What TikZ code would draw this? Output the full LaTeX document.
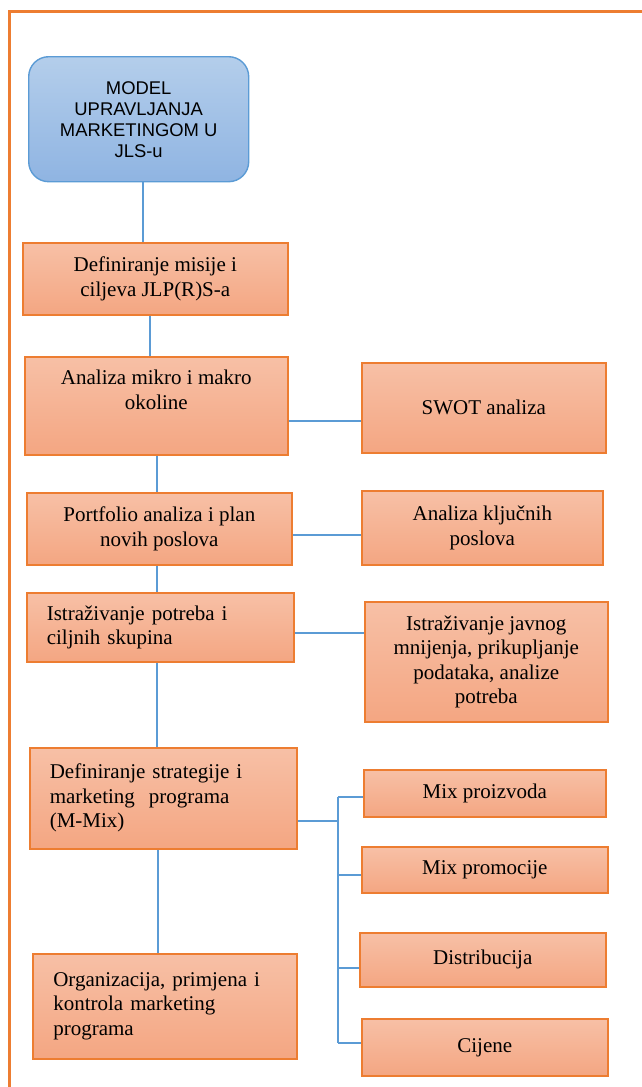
\documentclass[tikz,border=0pt]{standalone}
\usepackage{fontspec}
\setmainfont{Liberation Serif}
\newfontfamily\arialf{Liberation Sans}
\definecolor{frameor}{HTML}{ED7D31}
\definecolor{boxor}{HTML}{ED7D31}
\definecolor{saltop}{HTML}{F7C0A6}
\definecolor{salbot}{HTML}{F4A682}
\definecolor{bltop}{HTML}{B4CEEB}
\definecolor{blbot}{HTML}{8FB4E2}
\definecolor{blline}{HTML}{5B9BD5}
\tikzset{
  box/.style={draw=boxor, line width=1.6pt, top color=saltop, bottom color=salbot,
    inner sep=0pt, anchor=north west, font=\fontsize{21}{24.5}\selectfont},
  conn/.style={draw=blline, line width=1.4pt},
  titlebox/.style={draw=blline, line width=1.4pt, rounded corners=20pt, top color=bltop,
    bottom color=blbot, inner sep=0pt, anchor=north west, align=center,
    font=\arialf\fontsize{18.4}{21}\selectfont}
}
\begin{document}
\begin{tikzpicture}[x=1pt,y=-1pt]
\useasboundingbox (0,0) rectangle (641,1087);
\draw[frameor, line width=3pt] (9,1090) -- (9,11) -- (645,11);

\node[titlebox, minimum width=220pt, minimum height=125pt] (t) at (28,56)
  {MODEL\\UPRAVLJANJA\\MARKETINGOM U\\JLS-u};

\node[box, minimum width=265pt, minimum height=72pt, align=center] (b1) at (22,242)
  {Definiranje misije i\\ciljeva JLP(R)S-a};
\node[box, minimum width=263pt, minimum height=98pt, align=center] (b2) at (24,356)
  {Analiza mikro i makro\\okoline\\ \strut};
\node[box, minimum width=265pt, minimum height=72pt, align=center] (b3) at (26,492)
  {Portfolio analiza i plan\\novih poslova};
\node[box, minimum width=267pt, minimum height=69pt, text width=227pt, align=left] (b4) at (26,592)
  {Istraživanje potreba i\\ciljnih skupina};
\node[box, minimum width=267pt, minimum height=101pt, text width=227pt, align=left] (b5) at (29,747)
  {Definiranje strategije i\\marketing\ \ programa\\(M-Mix)};
\node[box, minimum width=264pt, minimum height=105pt, text width=223pt, align=left] (b6) at (32,953)
  {Organizacija, primjena i\\kontrola marketing\\programa};

\node[box, minimum width=244pt, minimum height=90pt, align=center] (r1) at (361,362)
  {SWOT analiza};
\node[box, minimum width=241pt, minimum height=74pt, align=center] (r2) at (361,490)
  {Analiza ključnih\\poslova};
\node[box, minimum width=243pt, minimum height=120pt, align=center] (r3) at (364,601)
  {Istraživanje javnog\\mnijenja, prikupljanje\\podataka, analize\\potreba};
\node[box, minimum width=242pt, minimum height=47pt, align=center] (m1) at (363,769)
  {Mix proizvoda};
\node[box, minimum width=246pt, minimum height=46pt, align=center] (m2) at (361,846)
  {Mix promocije};
\node[box, minimum width=246pt, minimum height=54pt, align=center] (m3) at (359,932)
  {Distribucija};
\node[box, minimum width=246pt, minimum height=57pt, align=center] (m4) at (361,1018)
  {Cijene};

% vertical chain
\coordinate (v0) at (143,0);
\coordinate (v1) at (150,0);
\coordinate (v2) at (157,0);
\coordinate (v5) at (158,0);
\draw[conn] (t.south -| v0) -- (b1.north -| v0);
\draw[conn] (b1.south -| v1) -- (b2.north -| v1);
\draw[conn] (b2.south -| v2) -- (b3.north -| v2);
\draw[conn] (b3.south -| v2) -- (b4.north -| v2);
\draw[conn] (b4.south -| v2) -- (b5.north -| v2);
\draw[conn] (b5.south -| v5) -- (b6.north -| v5);

% side links
\coordinate (h2) at (0,421);
\coordinate (h3) at (0,535);
\coordinate (h4) at (0,633);
\draw[conn] (b2.east |- h2) -- (r1.west |- h2);
\draw[conn] (b3.east |- h3) -- (r2.west |- h3);
\draw[conn] (b4.east |- h4) -- (r3.west |- h4);

% mix bus
\coordinate (bus) at (338,0);
\coordinate (h5) at (0,821);
\coordinate (y1) at (0,797);
\coordinate (y2) at (0,875);
\coordinate (y3) at (0,968);
\coordinate (y4) at (0,1043);
\draw[conn] (b5.east |- h5) -- (bus |- h5);
\draw[conn] (bus |- y1) -- (bus |- y4);
\draw[conn] (bus |- y1) -- (m1.west |- y1);
\draw[conn] (bus |- y2) -- (m2.west |- y2);
\draw[conn] (bus |- y3) -- (m3.west |- y3);
\draw[conn] (bus |- y4) -- (m4.west |- y4);
\end{tikzpicture}
\end{document}
